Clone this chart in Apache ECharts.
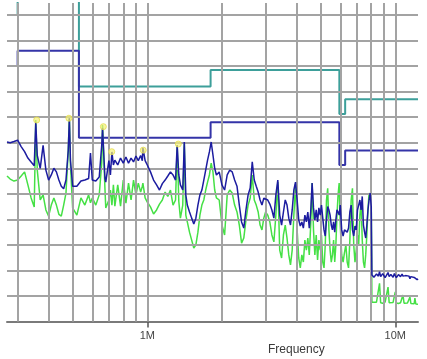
<!DOCTYPE html>
<html>
<head>
<meta charset="utf-8">
<script src="https://cdn.jsdelivr.net/npm/echarts/dist/echarts.min.js"></script>
<style>
html,body{margin:0;padding:0;background:#fff;}
#chart{width:427px;height:359px;}
</style>
</head>
<body>
<div id="chart"></div>
<script>
// Frequency range (MHz) and level axis (dBµV)
const xMin = 0.2718, xMax = 12.35;
const yMin = 0, yMax = 124.7;

// Grid lines
const gridFreqs = [0.3,0.4,0.5,0.6,0.7,0.8,0.9,1,2,3,4,5,6,7,8,9,10];
const gridLevels = [10,20,30,40,50,60,70,80,90,100,110,120];

// Tick labels
const tickFreqs = [1, 10];
const tickLabels = ['1M', '10M'];
const axisName = 'Frequency';

// Limit lines (step shaped)
const limitQP = [[0.2718,120],[0.3,120],[0.3,135],[0.53,135],[0.53,92],[1.8,92],[1.8,98.5],[5.95,98.5],[5.95,81.3],[6.28,81.3],[6.28,87],[12.35,87]];
const limitAV = [[0.2718,100],[0.3,100],[0.3,106],[0.53,106],[0.53,72],[1.8,72],[1.8,78],[5.95,78],[5.95,61.3],[6.28,61.3],[6.28,67],[12.35,67]];

// Measured traces
const freqMHz = [
0.2718,0.28,0.29,0.30,0.31,0.32,0.33,0.34,0.35,0.355,0.36,0.37,0.38,0.39,0.40,0.41,0.42,0.43,0.44,0.45,0.46,0.47,0.48,0.485,0.49,
0.50,0.52,0.54,0.56,0.58,0.59,0.60,0.62,0.64,0.655,0.66,0.675,0.68,0.70,0.71,0.72,0.73,0.74,0.76,0.78,0.80,0.82,0.84,0.86,0.88,
0.90,0.92,0.94,0.955,0.96,0.98,1.00,1.03,1.06,1.09,1.12,1.15,1.18,1.21,1.24,1.27,1.30,1.32,1.34,1.36,1.39,1.41,1.43,1.45,1.48,
1.51,1.54,1.57,1.60,1.63,1.66,1.69,1.72,1.75,1.78,1.81,1.84,1.87,1.90,1.95,2.00,2.05,2.10,2.15,2.20,2.25,2.30,2.35,2.40,2.45,
2.50,2.55,2.60,2.65,2.70,2.75,2.80,2.85,2.90,2.95,3.00,3.06,3.12,3.18,3.24,3.30,3.36,3.42,3.48,3.54,3.60,3.66,3.72,3.78,3.84,
3.90,3.96,4.02,4.08,4.14,4.20,4.26,4.32,4.38,4.44,4.50,4.56,4.62,4.68,4.74,4.80,4.86,4.92,4.98,5.04,5.10,5.16,5.22,5.28,5.34,
5.40,5.46,5.52,5.58,5.64,5.70,5.76,5.82,5.88,5.94,6.00,6.08,6.16,6.24,6.32,6.40,6.48,6.56,6.64,6.72,6.80,6.88,6.96,7.04,7.12,
7.20,7.28,7.36,7.44,7.52,7.60,7.68,7.76,7.84,7.92,8.00,8.05,8.2,8.4,8.55,8.64,8.73,8.9,9.1,9.25,9.35,9.45,9.6,9.8,9.92,
10.0,10.1,10.3,10.5,10.65,10.74,10.85,11.0,11.2,11.36,11.46,11.56,11.75,11.92,12.0,12.1,12.25,12.35
];
const peakDb = [
70.3,70,70.5,71,68.5,66.5,64,62.5,61,78,65,60,69,59.3,55.4,57.4,60,58.6,55.4,53,52,55.4,67,79.6,63,
53,53,55,55.4,56,66,55.4,55,56.6,69,75.7,56,54.6,63,57.4,66.4,61.3,63.2,61.3,64,62,64.4,62,64,62.5,
64.8,63,65,63,68,63,61.3,58.6,55.4,53.5,51.5,54,55.4,57,58.6,57.4,55.4,69,57.4,53.5,51.5,70.3,49.6,45.6,42.9,
40.5,38.2,40.5,45.6,49.6,51.5,55.4,59.3,63.2,66.4,70.3,65.2,60,57.4,58.6,53.5,51.5,57.4,59.3,58.6,55.4,53,45.6,39,36.6,
43.7,49.6,52.3,62.5,55.4,53,50.7,47.6,45.6,48.3,49,47.6,46,43.7,40.5,49.6,55.4,41.7,37.8,42.9,47.6,45.6,40.5,37.8,43.7,
51.5,54.6,47.6,39.8,37.4,39,36.6,41.7,39,42.9,36.6,42.9,54.2,44.5,39.8,43.7,39,44.5,41.7,45.6,40.5,35.9,33.5,39.8,45,
43.7,41.7,37.8,35.9,39,35,39.8,43.7,42.9,41.7,45.6,35.9,33.5,35.9,36.6,35,36.6,42.9,45.6,35.9,33.5,37.4,35.9,43.7,45.6,
47.6,43.7,49,37.8,35,32.7,37.8,43.7,47.6,50.3,45,18.2,17.4,18.6,17.8,19.5,17.6,18.8,17.2,18.4,19.2,17.6,18.4,17.4,18.8,
18.0,17.2,18.4,17.6,18.6,17.8,17.2,18.0,17.4,17.8,16.8,17.6,16.9,17.3,16.6,17.0,16.4,16.8
];
const avgDb = [
57,55.8,55,55.4,57,58.6,53.5,48.4,44.9,78.9,59.3,47.6,49.6,43.7,41.3,45.6,48.4,45.6,42,41.3,45.6,50.3,67,80,61.3,
44.5,41.7,48.4,45.6,49.6,46.5,48.4,45.6,49.6,62,76.9,52,44.5,47.6,51.5,45.6,53.5,45.2,53.5,45.2,55.4,46.4,54.2,47.6,55.4,
49.6,54.2,50.7,53,54.2,48.4,46.8,44.9,42.1,43.7,46,47.6,50.7,49,51.5,45.6,47.6,69,47,40.5,45.6,70.3,41.7,39,35,
31.9,28.8,30,35,41.7,45.6,47.6,51.5,54.6,57.4,62,58.6,51.5,48.4,47.6,37.8,33.9,49.6,51.5,50.3,45.6,42.9,37.8,30.7,32.7,
39.8,45.6,48.4,57.4,47.6,45.6,42.9,37.8,35.9,40.5,42.9,41.7,39,33.9,31.2,41.7,54.6,28,24.9,33.9,37.8,32.7,26.1,22.2,28,
41.7,53.9,35.9,24.9,21,26.1,23.3,31.9,28,32.7,26.1,37.8,54.2,35.9,26.1,33.9,24.1,31.9,28,33.9,23.3,21,30,47.6,52.2,
35.9,28,23.3,26.1,31.9,23.3,30,41.7,49.6,54.2,37.8,26.1,23.3,27,30,23.3,21,31.9,47.6,52.2,30,23.3,28,33.9,30,
41.7,46.4,31.9,23.3,21,26.1,33.9,43.7,50.3,49.6,48,7.6,7.2,7.6,7.3,15,7.4,7.2,7.6,7.3,13.5,7.4,7.1,7.5,7.2,
11.6,7.3,7.1,7.4,7.0,10.4,7.2,7.0,7.3,6.9,9.6,7.1,6.8,7.0,9.2,6.9,6.7,6.8
];

// Marked peaks
const peakFreqs = [0.358, 0.483, 0.665, 0.719, 0.963, 1.334];
const peakLevels = [78.9, 79.6, 76.3, 66.5, 67.1, 69.5];

const pair = (xs, ys) => xs.map((x, i) => [x, ys[i]]);

const chart = echarts.init(document.getElementById('chart'), null, {renderer: 'canvas'});
const gridColor = '#a3a3a3';

function tickText(v) {
  for (let i = 0; i < tickFreqs.length; i++) {
    if (Math.abs(v - tickFreqs[i]) < 1e-6 * tickFreqs[i]) return tickLabels[i];
  }
  return '';
}

chart.setOption({
  animation: false,
  backgroundColor: '#ffffff',
  grid: {left: 7, right: 9, top: 3, bottom: 37.4, containLabel: false},
  title: {
    text: axisName, left: 263, top: 339,
    textStyle: {fontSize: 12, fontWeight: 'normal', color: '#3a3a3a', fontFamily: 'Liberation Sans, Arial, sans-serif'}
  },
  xAxis: {
    type: 'log', logBase: 10, min: xMin, max: xMax,
    axisLine: {show: true, lineStyle: {color: '#7a7a7a', width: 2}},
    axisTick: {show: true, customValues: tickFreqs, length: 6, lineStyle: {color: '#555', width: 1.5}},
    axisLabel: {
      show: true, margin: 9, fontSize: 11, color: '#444',
      fontFamily: 'Liberation Sans, Arial, sans-serif',
      formatter: tickText
    },
    splitLine: {show: false}
  },
  yAxis: {
    type: 'value', min: yMin, max: yMax,
    axisLine: {show: false}, axisTick: {show: false}, axisLabel: {show: false}, splitLine: {show: false}
  },
  series: [
    {
      name: 'grid', type: 'line', data: [], z: 0, silent: true,
      markLine: {
        silent: true, symbol: 'none', animation: false,
        label: {show: false},
        lineStyle: {color: gridColor, width: 2, type: 'solid'},
        data: gridFreqs.map(f => ({xAxis: f})).concat(gridLevels.map(l => ({yAxis: l})))
      }
    },
    {
      name: 'QP limit', type: 'line', data: limitQP, showSymbol: false, z: 3,
      lineStyle: {color: '#3d9f9a', width: 2}, clip: true
    },
    {
      name: 'AV limit', type: 'line', data: limitAV, showSymbol: false, z: 3,
      lineStyle: {color: '#3434a8', width: 2}, clip: true
    },
    {
      name: 'Average', type: 'line', data: pair(freqMHz, avgDb), showSymbol: false, z: 4,
      lineStyle: {color: '#45e045', width: 1.5}
    },
    {
      name: 'Peak', type: 'line', data: pair(freqMHz, peakDb), showSymbol: false, z: 5,
      lineStyle: {color: '#1c1ca0', width: 1.5}
    },
    {
      name: 'Markers', type: 'scatter', data: pair(peakFreqs, peakLevels), z: 6,
      symbol: 'circle', symbolSize: 6,
      itemStyle: {color: 'rgba(245,240,120,0.85)', borderColor: '#e6de50', borderWidth: 1}
    }
  ]
});
</script>
</body>
</html>
